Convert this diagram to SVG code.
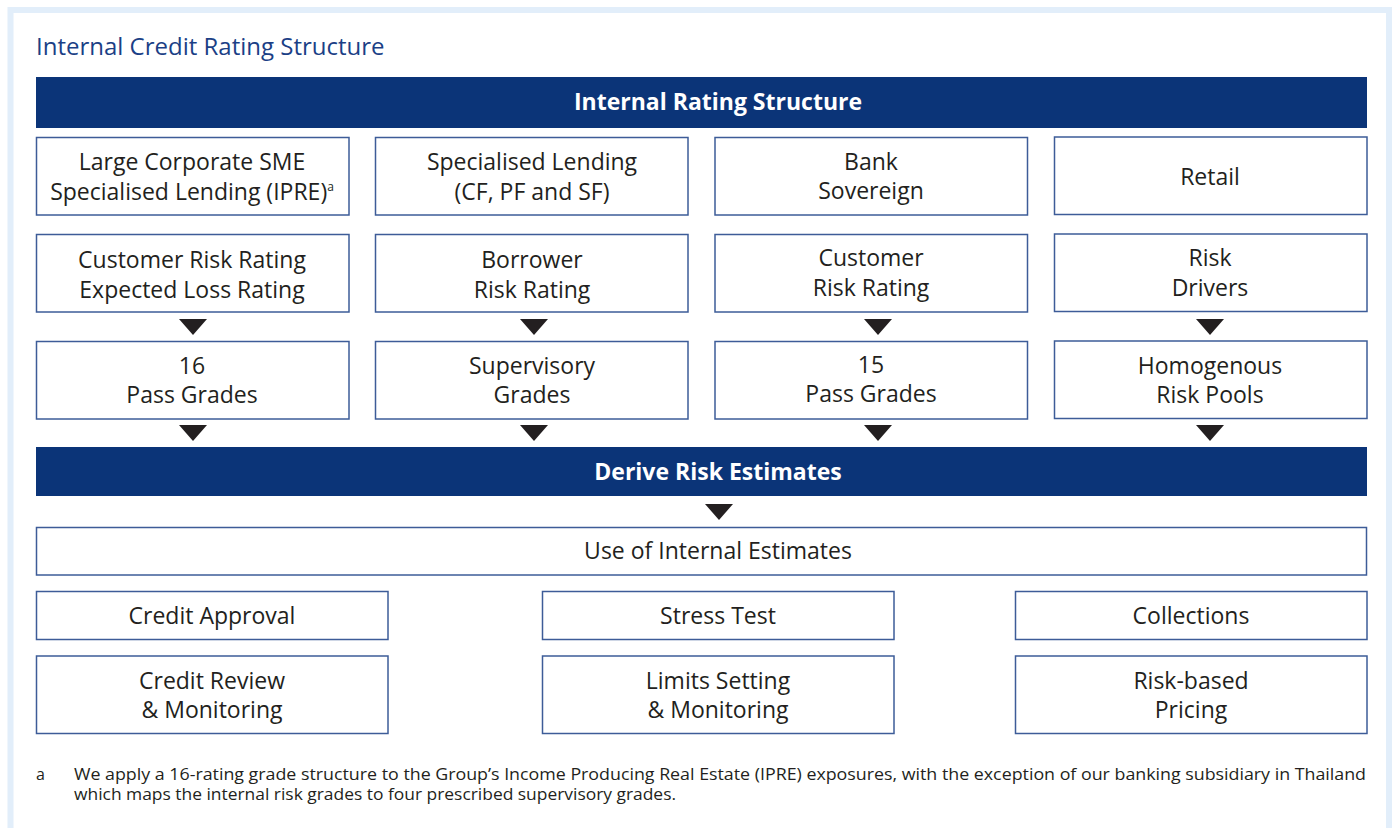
<svg xmlns="http://www.w3.org/2000/svg" width="1394" height="828" viewBox="0 0 1394 828">
<style>
.box{fill:#ffffff;stroke:#3d5c98;stroke-width:1.5}
.ban{fill:#0b3478}
.t{font-family:"Open Sans","Noto Sans","Liberation Sans",sans-serif;font-size:23px;fill:#231f20;text-anchor:middle}
.bt{font-family:"Open Sans","Noto Sans","Liberation Sans",sans-serif;font-size:23px;font-weight:bold;fill:#ffffff;text-anchor:middle}
.ft{font-family:"Open Sans","Noto Sans","Liberation Sans",sans-serif;font-size:16px;fill:#231f20}
.arr{fill:#231f20}
</style>
<rect x="0" y="0" width="1394" height="828" fill="#ffffff"/>
<rect x="10.5" y="10" width="1378.5" height="840" fill="#ffffff" stroke="#e2eefa" stroke-width="6"/>
<text x="36" y="55" font-family="'Open Sans','Noto Sans','Liberation Sans',sans-serif" font-size="24" fill="#1b3f86">Internal Credit Rating Structure</text>

<g id="banner-rating"><rect class="ban" x="36" y="77" width="1331" height="51"/><text class="bt" x="718" y="110">Internal Rating Structure</text></g>

<g id="n-large-corporate"><rect class="box" x="36.5" y="137.5" width="312.5" height="77.5"/><text class="t" x="192" y="170">Large Corporate SME</text><text class="t" x="192" y="200">Specialised Lending (IPRE)<tspan font-size="12" dy="-9">a</tspan></text></g>
<g id="n-specialised"><rect class="box" x="375.5" y="137.5" width="312.5" height="77.5"/><text class="t" x="532" y="170">Specialised Lending</text><text class="t" x="532" y="200">(CF, PF and SF)</text></g>
<g id="n-bank"><rect class="box" x="715" y="137.5" width="312.5" height="77.5"/><text class="t" x="871" y="170">Bank</text><text class="t" x="871" y="199">Sovereign</text></g>
<g id="n-retail"><rect class="box" x="1054.5" y="137" width="312.5" height="77.5"/><text class="t" x="1210" y="185">Retail</text></g>

<g id="n-crr-elr"><rect class="box" x="36.5" y="234.5" width="312.5" height="77.5"/><text class="t" x="192" y="268">Customer Risk Rating</text><text class="t" x="192" y="298">Expected Loss Rating</text></g>
<g id="n-brr"><rect class="box" x="375.5" y="234.5" width="312.5" height="77.5"/><text class="t" x="532" y="268">Borrower</text><text class="t" x="532" y="298">Risk Rating</text></g>
<g id="n-crr"><rect class="box" x="715" y="234.5" width="312.5" height="77.5"/><text class="t" x="871" y="266">Customer</text><text class="t" x="871" y="296">Risk Rating</text></g>
<g id="n-drivers"><rect class="box" x="1054.5" y="234" width="312.5" height="77.5"/><text class="t" x="1210" y="266">Risk</text><text class="t" x="1210" y="296">Drivers</text></g>

<g id="n-16"><rect class="box" x="36.5" y="341.5" width="312.5" height="77.5"/><text class="t" x="192" y="374">16</text><text class="t" x="192" y="403">Pass Grades</text></g>
<g id="n-supervisory"><rect class="box" x="375.5" y="341.5" width="312.5" height="77.5"/><text class="t" x="532" y="374">Supervisory</text><text class="t" x="532" y="403">Grades</text></g>
<g id="n-15"><rect class="box" x="715" y="341.5" width="312.5" height="77.5"/><text class="t" x="871" y="373">15</text><text class="t" x="871" y="402">Pass Grades</text></g>
<g id="n-pools"><rect class="box" x="1054.5" y="341" width="312.5" height="77.5"/><text class="t" x="1210" y="374">Homogenous</text><text class="t" x="1210" y="403">Risk Pools</text></g>

<g id="banner-derive"><rect class="ban" x="36" y="447" width="1331" height="49"/><text class="bt" x="718" y="480">Derive Risk Estimates</text></g>

<g id="n-use"><rect class="box" x="36.5" y="527.5" width="1330" height="47.5"/><text class="t" x="718" y="559">Use of Internal Estimates</text></g>

<g id="n-approval"><rect class="box" x="36.5" y="591.5" width="351.5" height="48"/><text class="t" x="212" y="624">Credit Approval</text></g>
<g id="n-stress"><rect class="box" x="542.5" y="591.5" width="351.5" height="48"/><text class="t" x="718" y="624">Stress Test</text></g>
<g id="n-collections"><rect class="box" x="1015.5" y="591.5" width="351.5" height="48"/><text class="t" x="1191" y="624">Collections</text></g>

<g id="n-review"><rect class="box" x="36.5" y="656" width="351.5" height="77.5"/><text class="t" x="212" y="689">Credit Review</text><text class="t" x="212" y="718">&amp; Monitoring</text></g>
<g id="n-limits"><rect class="box" x="542.5" y="656" width="351.5" height="77.5"/><text class="t" x="718" y="689">Limits Setting</text><text class="t" x="718" y="718">&amp; Monitoring</text></g>
<g id="n-pricing"><rect class="box" x="1015.5" y="656" width="351.5" height="77.5"/><text class="t" x="1191" y="689">Risk-based</text><text class="t" x="1191" y="718">Pricing</text></g>

<g id="connectors">
<polygon class="arr" points="179,319 207,319 193,335"/>
<polygon class="arr" points="520,319 548,319 534,335"/>
<polygon class="arr" points="864,319 892,319 878,335"/>
<polygon class="arr" points="1196,319 1224,319 1210,335"/>
<polygon class="arr" points="179,425 207,425 193,441"/>
<polygon class="arr" points="520,425 548,425 534,441"/>
<polygon class="arr" points="864,425 892,425 878,441"/>
<polygon class="arr" points="1196,425 1224,425 1210,441"/>
<polygon class="arr" points="705,504 733,504 719,520"/>
</g>

<g id="footnote">
<text class="ft" x="36" y="780">a</text>
<text class="ft" x="74" y="780" textLength="1292" lengthAdjust="spacingAndGlyphs">We apply a 16-rating grade structure to the Group’s Income Producing Real Estate (IPRE) exposures, with the exception of our banking subsidiary in Thailand</text>
<text class="ft" x="74" y="800" textLength="602" lengthAdjust="spacingAndGlyphs">which maps the internal risk grades to four prescribed supervisory grades.</text>
</g>
</svg>
